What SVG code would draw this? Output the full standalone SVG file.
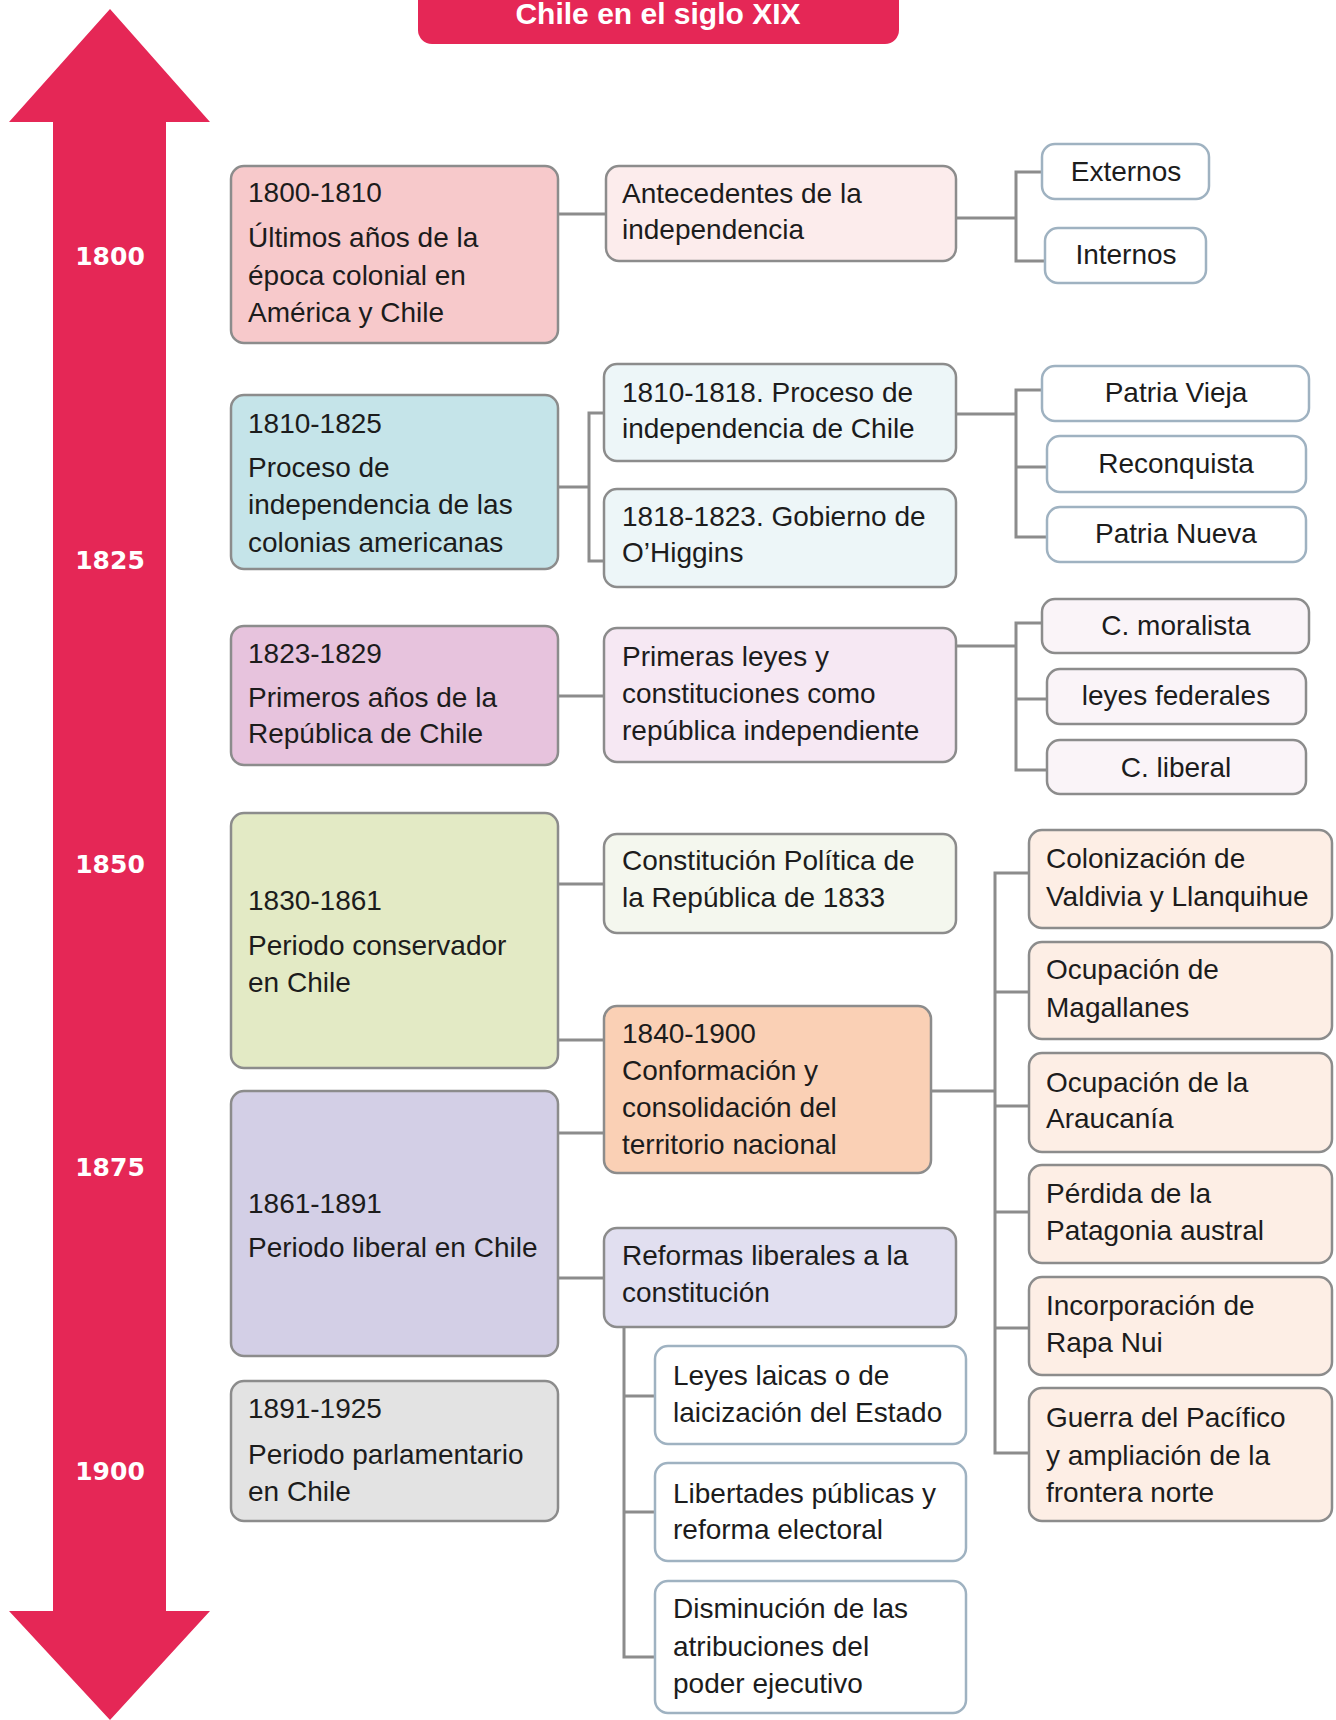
<svg xmlns="http://www.w3.org/2000/svg" width="1336" height="1720" viewBox="0 0 1336 1720">
<style>
.bx{stroke:#8c8c8c;stroke-width:2.5}
.bw{fill:#ffffff;stroke:#9fb2c1;stroke-width:2.5}
.t{font-family:"Liberation Sans",Arial,sans-serif;font-size:28px;fill:#1c1c1c}
.c{text-anchor:middle}
.yr{font-family:"DejaVu Sans",Verdana,sans-serif;font-weight:bold;font-size:25px;fill:#ffffff;text-anchor:middle}
.ttl{font-family:"Liberation Sans",Arial,sans-serif;font-weight:bold;font-size:30px;fill:#ffffff;text-anchor:middle}
.cn{fill:none;stroke:#8c8c8c;stroke-width:3}
</style>
<rect width="1336" height="1720" fill="#ffffff"/>
<g id="timeline">
<polygon points="110,9 210,122 166,122 166,1611 210,1611 110,1720 9,1611 53,1611 53,122 9,122" fill="#e52756"/>
<text class="yr" x="110" y="265">1800</text>
<text class="yr" x="110" y="569">1825</text>
<text class="yr" x="110" y="873">1850</text>
<text class="yr" x="110" y="1176">1875</text>
<text class="yr" x="110" y="1480">1900</text>
</g>
<g id="title">
<rect x="418" y="-20" width="481" height="64" rx="14" fill="#e52756"/>
<text class="ttl" x="658" y="24">Chile en el siglo XIX</text>
</g>
<g id="connectors">
<path class="cn" d="M558 214H606"/>
<path class="cn" d="M956 218H1016M1042 172H1016V261H1045"/>
<path class="cn" d="M558 487H589M604 413H589V561H604"/>
<path class="cn" d="M956 414H1016M1042 390H1016V537H1047M1016 467H1047"/>
<path class="cn" d="M558 696H604"/>
<path class="cn" d="M956 646H1016M1042 623H1016V770H1047M1016 699H1047"/>
<path class="cn" d="M558 884H604M558 1040H604"/>
<path class="cn" d="M558 1133H604M558 1278H604"/>
<path class="cn" d="M931 1091H995M1029 873H995V1453H1029M995 992H1029M995 1106H1029M995 1212H1029M995 1328H1029"/>
<path class="cn" d="M624 1327V1657H655M624 1396H655M624 1512H655"/>
</g>
<g id="n1800">
<rect class="bx" x="231" y="166" width="327" height="177" rx="13" fill="#f7c9cb"/>
<text class="t" x="248" y="202">1800-1810</text>
<text class="t" x="248" y="247">Últimos años de la</text>
<text class="t" x="248" y="285">época colonial en</text>
<text class="t" x="248" y="322">América y Chile</text>
</g>
<g id="nAntecedentes">
<rect class="bx" x="606" y="166" width="350" height="95" rx="13" fill="#fcecec"/>
<text class="t" x="622" y="203">Antecedentes de la</text>
<text class="t" x="622" y="239">independencia</text>
</g>
<g id="nExternos">
<rect class="bw" x="1042" y="144" width="167" height="55" rx="13"/>
<text class="t c" x="1126" y="181">Externos</text>
</g>
<g id="nInternos">
<rect class="bw" x="1045" y="228" width="161" height="55" rx="13"/>
<text class="t c" x="1126" y="264">Internos</text>
</g>
<g id="n1810">
<rect class="bx" x="231" y="395" width="327" height="174" rx="13" fill="#c5e4e9"/>
<text class="t" x="248" y="433">1810-1825</text>
<text class="t" x="248" y="477">Proceso de</text>
<text class="t" x="248" y="514">independencia de las</text>
<text class="t" x="248" y="552">colonias americanas</text>
</g>
<g id="nProceso">
<rect class="bx" x="604" y="364" width="352" height="97" rx="13" fill="#edf6f8"/>
<text class="t" x="622" y="402">1810-1818. Proceso de</text>
<text class="t" x="622" y="438">independencia de Chile</text>
</g>
<g id="nOHiggins">
<rect class="bx" x="604" y="489" width="352" height="98" rx="13" fill="#edf6f8"/>
<text class="t" x="622" y="526">1818-1823. Gobierno de</text>
<text class="t" x="622" y="562">O’Higgins</text>
</g>
<g id="nPatriaVieja">
<rect class="bw" x="1042" y="366" width="267" height="55" rx="13"/>
<text class="t c" x="1176" y="402">Patria Vieja</text>
</g>
<g id="nReconquista">
<rect class="bw" x="1047" y="436" width="259" height="56" rx="13"/>
<text class="t c" x="1176" y="473">Reconquista</text>
</g>
<g id="nPatriaNueva">
<rect class="bw" x="1047" y="507" width="259" height="55" rx="13"/>
<text class="t c" x="1176" y="543">Patria Nueva</text>
</g>
<g id="n1823">
<rect class="bx" x="231" y="626" width="327" height="139" rx="13" fill="#e7c3dd"/>
<text class="t" x="248" y="663">1823-1829</text>
<text class="t" x="248" y="707">Primeros años de la</text>
<text class="t" x="248" y="743">República de Chile</text>
</g>
<g id="nPrimeras">
<rect class="bx" x="604" y="628" width="352" height="134" rx="13" fill="#f6e8f3"/>
<text class="t" x="622" y="666">Primeras leyes y</text>
<text class="t" x="622" y="703">constituciones como</text>
<text class="t" x="622" y="740">república independiente</text>
</g>
<g id="nMoralista">
<rect class="bx" x="1042" y="599" width="267" height="54" rx="13" fill="#faf4f8"/>
<text class="t c" x="1176" y="635">C. moralista</text>
</g>
<g id="nFederales">
<rect class="bx" x="1047" y="669" width="259" height="55" rx="13" fill="#faf4f8"/>
<text class="t c" x="1176" y="705">leyes federales</text>
</g>
<g id="nLiberal">
<rect class="bx" x="1047" y="740" width="259" height="54" rx="13" fill="#faf4f8"/>
<text class="t c" x="1176" y="777">C. liberal</text>
</g>
<g id="n1830">
<rect class="bx" x="231" y="813" width="327" height="255" rx="13" fill="#e3eac5"/>
<text class="t" x="248" y="910">1830-1861</text>
<text class="t" x="248" y="955">Periodo conservador</text>
<text class="t" x="248" y="992">en Chile</text>
</g>
<g id="nConstitucion">
<rect class="bx" x="604" y="834" width="352" height="99" rx="13" fill="#f4f7ee"/>
<text class="t" x="622" y="870">Constitución Política de</text>
<text class="t" x="622" y="907">la República de 1833</text>
</g>
<g id="n1840">
<rect class="bx" x="604" y="1006" width="327" height="167" rx="13" fill="#fad0b5"/>
<text class="t" x="622" y="1043">1840-1900</text>
<text class="t" x="622" y="1080">Conformación y</text>
<text class="t" x="622" y="1117">consolidación del</text>
<text class="t" x="622" y="1154">territorio nacional</text>
</g>
<g id="nColonizacion">
<rect class="bx" x="1029" y="830" width="303" height="98" rx="13" fill="#fdeee5"/>
<text class="t" x="1046" y="868">Colonización de</text>
<text class="t" x="1046" y="906">Valdivia y Llanquihue</text>
</g>
<g id="nMagallanes">
<rect class="bx" x="1029" y="942" width="303" height="97" rx="13" fill="#fdeee5"/>
<text class="t" x="1046" y="979">Ocupación de</text>
<text class="t" x="1046" y="1017">Magallanes</text>
</g>
<g id="nAraucania">
<rect class="bx" x="1029" y="1053" width="303" height="99" rx="13" fill="#fdeee5"/>
<text class="t" x="1046" y="1092">Ocupación de la</text>
<text class="t" x="1046" y="1128">Araucanía</text>
</g>
<g id="nPatagonia">
<rect class="bx" x="1029" y="1165" width="303" height="98" rx="13" fill="#fdeee5"/>
<text class="t" x="1046" y="1203">Pérdida de la</text>
<text class="t" x="1046" y="1240">Patagonia austral</text>
</g>
<g id="nRapaNui">
<rect class="bx" x="1029" y="1277" width="303" height="98" rx="13" fill="#fdeee5"/>
<text class="t" x="1046" y="1315">Incorporación de</text>
<text class="t" x="1046" y="1352">Rapa Nui</text>
</g>
<g id="nGuerra">
<rect class="bx" x="1029" y="1388" width="303" height="133" rx="13" fill="#fdeee5"/>
<text class="t" x="1046" y="1427">Guerra del Pacífico</text>
<text class="t" x="1046" y="1465">y ampliación de la</text>
<text class="t" x="1046" y="1502">frontera norte</text>
</g>
<g id="n1861">
<rect class="bx" x="231" y="1091" width="327" height="265" rx="13" fill="#d3cfe6"/>
<text class="t" x="248" y="1213">1861-1891</text>
<text class="t" x="248" y="1257">Periodo liberal en Chile</text>
</g>
<g id="nReformas">
<rect class="bx" x="604" y="1228" width="352" height="99" rx="13" fill="#e1dff0"/>
<text class="t" x="622" y="1265">Reformas liberales a la</text>
<text class="t" x="622" y="1302">constitución</text>
</g>
<g id="nLaicas">
<rect class="bw" x="655" y="1346" width="311" height="98" rx="13"/>
<text class="t" x="673" y="1385">Leyes laicas o de</text>
<text class="t" x="673" y="1422">laicización del Estado</text>
</g>
<g id="nLibertades">
<rect class="bw" x="655" y="1463" width="311" height="98" rx="13"/>
<text class="t" x="673" y="1503">Libertades públicas y</text>
<text class="t" x="673" y="1539">reforma electoral</text>
</g>
<g id="nDisminucion">
<rect class="bw" x="655" y="1581" width="311" height="132" rx="13"/>
<text class="t" x="673" y="1618">Disminución de las</text>
<text class="t" x="673" y="1656">atribuciones del</text>
<text class="t" x="673" y="1693">poder ejecutivo</text>
</g>
<g id="n1891">
<rect class="bx" x="231" y="1381" width="327" height="140" rx="13" fill="#e3e3e3"/>
<text class="t" x="248" y="1418">1891-1925</text>
<text class="t" x="248" y="1464">Periodo parlamentario</text>
<text class="t" x="248" y="1501">en Chile</text>
</g>
</svg>
